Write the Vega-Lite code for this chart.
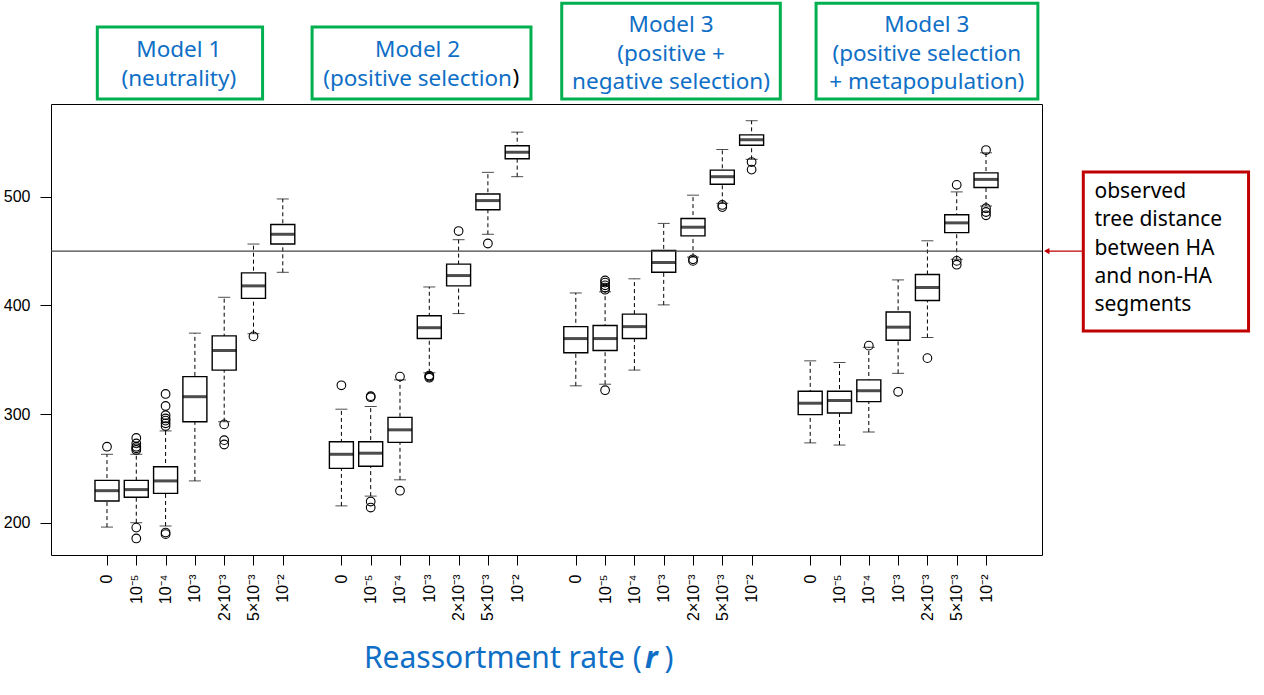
{
  "$schema": "https://vega.github.io/schema/vega-lite/v6.json",
  "width": 991,
  "height": 451,
  "autosize": {"type": "none"},
  "padding": {"left": 51, "top": 104, "right": 222, "bottom": 140},
  "background": "white",
  "config": {
    "view": {"stroke": "black", "strokeWidth": 1},
    "axis": {"grid": false, "domain": false, "tickColor": "black", "labelColor": "black", "labelFont": "Liberation Sans", "labelFontSize": 16}
  },
  "datasets": {
    "boxes": [
      {"pos": 1, "lo": 196, "q1": 220, "med": 229.5, "q3": 239, "hi": 263},
      {"pos": 2, "lo": 200, "q1": 223.5, "med": 230.5, "q3": 239, "hi": 263},
      {"pos": 3, "lo": 197, "q1": 227, "med": 238.5, "q3": 251.5, "hi": 284.5},
      {"pos": 4, "lo": 238.5, "q1": 293, "med": 316, "q3": 334.5, "hi": 374.5},
      {"pos": 5, "lo": 293, "q1": 340.5, "med": 358.5, "q3": 372, "hi": 407.5},
      {"pos": 6, "lo": 374, "q1": 406.5, "med": 418, "q3": 430, "hi": 456.5},
      {"pos": 7, "lo": 430.5, "q1": 456.5, "med": 465.5, "q3": 474.5, "hi": 498},
      {"pos": 9, "lo": 215.5, "q1": 250, "med": 263, "q3": 274.5, "hi": 304.5},
      {"pos": 10, "lo": 224.5, "q1": 252, "med": 264, "q3": 274.5, "hi": 307},
      {"pos": 11, "lo": 239.5, "q1": 274, "med": 285.5, "q3": 297, "hi": 331.5},
      {"pos": 12, "lo": 338, "q1": 369.5, "med": 379.5, "q3": 390.5, "hi": 417},
      {"pos": 13, "lo": 392.5, "q1": 418, "med": 427.5, "q3": 438, "hi": 460.5},
      {"pos": 14, "lo": 465.5, "q1": 488, "med": 496.5, "q3": 502.5, "hi": 522.5},
      {"pos": 15, "lo": 518.5, "q1": 535, "med": 541, "q3": 547, "hi": 559.5},
      {"pos": 17, "lo": 326, "q1": 356.5, "med": 369.5, "q3": 380.5, "hi": 411.5},
      {"pos": 18, "lo": 327.5, "q1": 358.5, "med": 369.5, "q3": 381.5, "hi": 412.5},
      {"pos": 19, "lo": 340.5, "q1": 369.5, "med": 380.5, "q3": 392, "hi": 424.5},
      {"pos": 20, "lo": 400.5, "q1": 430.5, "med": 439.5, "q3": 450.5, "hi": 475.5},
      {"pos": 21, "lo": 444.5, "q1": 464, "med": 472, "q3": 480, "hi": 501.5},
      {"pos": 22, "lo": 494, "q1": 511.5, "med": 518.5, "q3": 524.5, "hi": 543.5},
      {"pos": 23, "lo": 534.5, "q1": 547.5, "med": 552.5, "q3": 557, "hi": 570},
      {"pos": 25, "lo": 273.5, "q1": 299.5, "med": 310, "q3": 321, "hi": 349},
      {"pos": 26, "lo": 271.5, "q1": 301, "med": 312.5, "q3": 321, "hi": 347.5},
      {"pos": 27, "lo": 283.5, "q1": 311.5, "med": 321.5, "q3": 331.5, "hi": 361.5},
      {"pos": 28, "lo": 337.5, "q1": 368, "med": 380, "q3": 394, "hi": 423.5},
      {"pos": 29, "lo": 370.5, "q1": 404.5, "med": 416.5, "q3": 428.5, "hi": 459.5},
      {"pos": 30, "lo": 442.5, "q1": 467, "med": 476, "q3": 483.5, "hi": 504.5},
      {"pos": 31, "lo": 491.5, "q1": 508.5, "med": 516, "q3": 522, "hi": 540.5}
    ],
    "outliers": [
      {"pos": 1, "v": 270},
      {"pos": 2, "v": 278}, {"pos": 2, "v": 273}, {"pos": 2, "v": 270}, {"pos": 2, "v": 268.5}, {"pos": 2, "v": 267}, {"pos": 2, "v": 195.5}, {"pos": 2, "v": 185.5},
      {"pos": 3, "v": 318.5}, {"pos": 3, "v": 307.5}, {"pos": 3, "v": 299}, {"pos": 3, "v": 296}, {"pos": 3, "v": 294}, {"pos": 3, "v": 291.5}, {"pos": 3, "v": 289}, {"pos": 3, "v": 191}, {"pos": 3, "v": 189.5},
      {"pos": 5, "v": 290.5}, {"pos": 5, "v": 276}, {"pos": 5, "v": 272},
      {"pos": 6, "v": 371.5},
      {"pos": 9, "v": 326.5},
      {"pos": 10, "v": 316.5}, {"pos": 10, "v": 315.5}, {"pos": 10, "v": 219.5}, {"pos": 10, "v": 214},
      {"pos": 11, "v": 334.5}, {"pos": 11, "v": 229.5},
      {"pos": 12, "v": 335.5}, {"pos": 12, "v": 334.5}, {"pos": 12, "v": 333.5},
      {"pos": 13, "v": 468.5},
      {"pos": 14, "v": 457},
      {"pos": 18, "v": 423}, {"pos": 18, "v": 421}, {"pos": 18, "v": 418.5}, {"pos": 18, "v": 416.5}, {"pos": 18, "v": 414.5}, {"pos": 18, "v": 322},
      {"pos": 21, "v": 442.5}, {"pos": 21, "v": 441},
      {"pos": 22, "v": 492.5}, {"pos": 22, "v": 490.5},
      {"pos": 23, "v": 532}, {"pos": 23, "v": 525},
      {"pos": 27, "v": 363},
      {"pos": 28, "v": 320.5},
      {"pos": 29, "v": 351.5},
      {"pos": 30, "v": 511}, {"pos": 30, "v": 441}, {"pos": 30, "v": 437.5},
      {"pos": 31, "v": 543}, {"pos": 31, "v": 489.5}, {"pos": 31, "v": 486}, {"pos": 31, "v": 483}
    ],
    "titles": [
      {"label": "Model 1\n(neutrality)", "x1": 0.67, "x2": 6.31, "y1": 589.9, "y2": 656.2, "tx": 3.45, "ty": 628.8},
      {"label": "Model 2\n(positive selection", "x1": 8.0, "x2": 15.47, "y1": 589.9, "y2": 656.2, "tx": 11.6, "ty": 628.8},
      {"label": "Model 3\n(positive +\nnegative selection)", "x1": 16.52, "x2": 23.98, "y1": 589.9, "y2": 678.2, "tx": 20.25, "ty": 651.8},
      {"label": "Model 3\n(positive selection\n+ metapopulation)", "x1": 25.2, "x2": 32.77, "y1": 589.9, "y2": 678.2, "tx": 28.98, "ty": 651.8}
    ],
    "paren": [
      {"label": ")", "tx": 14.84, "ty": 602.8}
    ],
    "note": [
      {"label": "observed\ntree distance\nbetween HA\nand non-HA\nsegments", "x1": 34.32, "x2": 39.96, "y1": 376.4, "y2": 522.7, "tx": 34.7, "ty": 498.8, "ax": 33.07, "ay": 450}
    ],
    "xlab": [
      {"part": "Reassortment rate (", "x": 19.25, "y": 66.3},
      {"part": "r", "x": 19.36, "y": 66.3},
      {"part": ")", "x": 20.03, "y": 66.3}
    ]
  },
  "layer": [
    {
      "data": {"name": "boxes"},
      "mark": {"type": "rule", "color": "black", "strokeWidth": 1, "strokeDash": [4, 3]},
      "encoding": {
        "x": {"field": "pos", "type": "quantitative", "title": null,
          "scale": {"domain": [-0.74, 32.74], "nice": false, "zero": false},
          "axis": {"values": [1,2,3,4,5,6,7,9,10,11,12,13,14,15,17,18,19,20,21,22,23,25,26,27,28,29,30,31],
            "tickCount": 60,
            "labelExpr": "['0','10⁻⁵','10⁻⁴','10⁻³','2×10⁻³','5×10⁻³','10⁻²'][(datum.value-1)%8]",
            "labelAngle": 270, "labelAlign": "right", "labelBaseline": "middle", "tickSize": 10, "labelPadding": 9, "labelOverlap": false, "labelFlush": false}},
        "y": {"field": "lo", "type": "quantitative", "title": null,
          "scale": {"domain": [170.3, 585.4], "nice": false, "zero": false},
          "axis": {"values": [200, 300, 400, 500], "labelAngle": 0, "tickSize": 11, "labelPadding": 10}},
        "y2": {"field": "hi"}
      }
    },
    {
      "data": {"name": "boxes"},
      "mark": {"type": "tick", "orient": "horizontal", "color": "black", "size": 12, "thickness": 1},
      "encoding": {
        "x": {"field": "pos", "type": "quantitative", "title": null},
        "y": {"field": "lo", "type": "quantitative", "title": null}
      }
    },
    {
      "data": {"name": "boxes"},
      "mark": {"type": "tick", "orient": "horizontal", "color": "black", "size": 12, "thickness": 1},
      "encoding": {
        "x": {"field": "pos", "type": "quantitative", "title": null},
        "y": {"field": "hi", "type": "quantitative", "title": null}
      }
    },
    {
      "data": {"name": "boxes"},
      "mark": {"type": "bar", "size": 24, "fill": "white", "stroke": "black", "strokeWidth": 1.4},
      "encoding": {
        "x": {"field": "pos", "type": "quantitative", "title": null},
        "y": {"field": "q1", "type": "quantitative", "title": null},
        "y2": {"field": "q3"}
      }
    },
    {
      "data": {"name": "boxes"},
      "mark": {"type": "tick", "orient": "horizontal", "color": "black", "size": 24, "thickness": 3},
      "encoding": {
        "x": {"field": "pos", "type": "quantitative", "title": null},
        "y": {"field": "med", "type": "quantitative", "title": null}
      }
    },
    {
      "data": {"name": "outliers"},
      "mark": {"type": "point", "shape": "circle", "filled": false, "stroke": "black", "strokeWidth": 1.1, "size": 75, "opacity": 1},
      "encoding": {
        "x": {"field": "pos", "type": "quantitative", "title": null},
        "y": {"field": "v", "type": "quantitative", "title": null}
      }
    },
    {
      "data": {"values": [{"obs": 450}]},
      "mark": {"type": "rule", "color": "#444444", "strokeWidth": 1.2},
      "encoding": {
        "y": {"field": "obs", "type": "quantitative", "title": null}
      }
    },
    {
      "data": {"name": "titles"},
      "mark": {"type": "rect", "fill": "white", "stroke": "#00B050", "strokeWidth": 3, "clip": false},
      "encoding": {
        "x": {"field": "x1", "type": "quantitative", "title": null},
        "x2": {"field": "x2"},
        "y": {"field": "y1", "type": "quantitative", "title": null},
        "y2": {"field": "y2"}
      }
    },
    {
      "data": {"name": "titles"},
      "mark": {"type": "text", "lineBreak": "\n", "lineHeight": 28.8, "font": "Noto Sans", "fontSize": 22.5, "color": "#0F6FC6", "align": "center", "baseline": "alphabetic", "clip": false},
      "encoding": {
        "x": {"field": "tx", "type": "quantitative", "title": null},
        "y": {"field": "ty", "type": "quantitative", "title": null},
        "text": {"field": "label"}
      }
    },
    {
      "data": {"name": "paren"},
      "mark": {"type": "text", "font": "Noto Sans", "fontSize": 22.5, "color": "black", "align": "left", "baseline": "alphabetic", "clip": false},
      "encoding": {
        "x": {"field": "tx", "type": "quantitative", "title": null},
        "y": {"field": "ty", "type": "quantitative", "title": null},
        "text": {"field": "label"}
      }
    },
    {
      "data": {"name": "note"},
      "mark": {"type": "rect", "fill": "white", "stroke": "#C00000", "strokeWidth": 3, "clip": false},
      "encoding": {
        "x": {"field": "x1", "type": "quantitative", "title": null},
        "x2": {"field": "x2"},
        "y": {"field": "y1", "type": "quantitative", "title": null},
        "y2": {"field": "y2"}
      }
    },
    {
      "data": {"name": "note"},
      "mark": {"type": "text", "lineBreak": "\n", "lineHeight": 28.3, "font": "Noto Sans", "fontSize": 21, "color": "black", "align": "left", "baseline": "alphabetic", "clip": false},
      "encoding": {
        "x": {"field": "tx", "type": "quantitative", "title": null},
        "y": {"field": "ty", "type": "quantitative", "title": null},
        "text": {"field": "label"}
      }
    },
    {
      "data": {"name": "note"},
      "mark": {"type": "rule", "color": "#C00000", "strokeWidth": 1.2, "clip": false},
      "encoding": {
        "x": {"field": "ax", "type": "quantitative", "title": null},
        "x2": {"field": "x1"},
        "y": {"field": "ay", "type": "quantitative", "title": null}
      }
    },
    {
      "data": {"name": "note"},
      "mark": {"type": "point", "shape": "triangle-left", "filled": true, "color": "#C00000", "size": 40, "opacity": 1, "clip": false},
      "encoding": {
        "x": {"field": "ax", "type": "quantitative", "title": null},
        "y": {"field": "ay", "type": "quantitative", "title": null}
      }
    },
    {
      "data": {"name": "xlab"},
      "transform": [{"filter": "datum.part == 'Reassortment rate ('"}],
      "mark": {"type": "text", "font": "Noto Sans", "fontSize": 30, "color": "#0F6FC6", "align": "right", "baseline": "alphabetic", "clip": false},
      "encoding": {
        "x": {"field": "x", "type": "quantitative", "title": null},
        "y": {"field": "y", "type": "quantitative", "title": null},
        "text": {"field": "part"}
      }
    },
    {
      "data": {"name": "xlab"},
      "transform": [{"filter": "datum.part == 'r'"}],
      "mark": {"type": "text", "font": "Noto Sans", "fontSize": 30, "fontWeight": "bold", "fontStyle": "italic", "color": "#0F6FC6", "align": "left", "baseline": "alphabetic", "clip": false},
      "encoding": {
        "x": {"field": "x", "type": "quantitative", "title": null},
        "y": {"field": "y", "type": "quantitative", "title": null},
        "text": {"field": "part"}
      }
    },
    {
      "data": {"name": "xlab"},
      "transform": [{"filter": "datum.part == ')'"}],
      "mark": {"type": "text", "font": "Noto Sans", "fontSize": 30, "color": "#0F6FC6", "align": "left", "baseline": "alphabetic", "clip": false},
      "encoding": {
        "x": {"field": "x", "type": "quantitative", "title": null},
        "y": {"field": "y", "type": "quantitative", "title": null},
        "text": {"field": "part"}
      }
    }
  ]
}
